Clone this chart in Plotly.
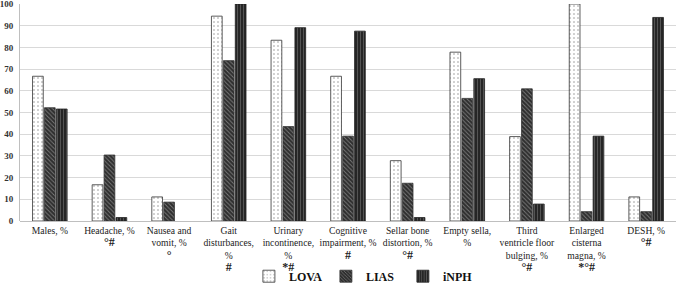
import plotly.graph_objects as go

SYM = '<span style="font-size:12px"><b>{}</b></span>'
categories = [
    "Males, %",
    "Headache, %<br>" + SYM.format("°#"),
    "Nausea and<br>vomit, %<br>" + SYM.format("°"),
    "Gait<br>disturbances,<br>%<br>" + SYM.format("#"),
    "Urinary<br>incontinence,<br>%<br>" + SYM.format("*#"),
    "Cognitive<br>impairment, %<br>" + SYM.format("#"),
    "Sellar bone<br>distortion, %<br>" + SYM.format("°#"),
    "Empty sella,<br>%",
    "Third<br>ventricle floor<br>bulging, %<br>" + SYM.format("°#"),
    "Enlarged<br>cisterna<br>magna, %<br>" + SYM.format("*°#"),
    "DESH, %<br>" + SYM.format("°#"),
]
lova = [66.7, 16.7, 11.1, 94.4, 83.3, 66.7, 27.8, 77.8, 38.9, 100.0, 11.1]
lias = [52.2, 30.4, 8.7, 73.9, 43.5, 39.1, 17.4, 56.5, 60.9, 4.3, 4.3]
inph = [51.6, 1.6, 0.0, 100.0, 89.1, 87.5, 1.6, 65.6, 7.8, 39.1, 93.8]
y_ticks = list(range(0, 101, 10))

x = list(range(len(categories)))
serif = "Liberation Serif"


def outline(values, color, width=0.8):
    # no outline on zero-height bars (nothing is drawn there in the reference)
    return dict(color=color, width=[0 if v == 0 else width for v in values])


fig = go.Figure()
fig.add_trace(go.Bar(
    name="LOVA", x=x, y=lova,
    marker=dict(color="white", line=outline(lova, "#333333"),
                pattern=dict(shape=".", fgcolor="#222222", bgcolor="white",
                             size=4, solidity=0.12)),
))
fig.add_trace(go.Bar(
    name="LIAS", x=x, y=lias,
    marker=dict(color="#333333", line=outline(lias, "#333333"),
                pattern=dict(shape="\\", fgcolor="#c8c8c8", bgcolor="#2e2e2e",
                             size=3, solidity=0.3)),
))
fig.add_trace(go.Bar(
    name="iNPH", x=x, y=inph,
    marker=dict(color="#333333", line=outline(inph, "#222222"),
                pattern=dict(shape="|", fgcolor="#8c8c8c", bgcolor="#262626",
                             size=3, solidity=0.3)),
))

fig.update_layout(
    width=676, height=283,
    margin=dict(l=20, r=0, t=4, b=62, autoexpand=False),
    paper_bgcolor="white", plot_bgcolor="white",
    barmode="group", bargap=0.4, bargroupgap=0.1,
    font=dict(family=serif, color="#222222", size=10),
    showlegend=True,
    legend=dict(orientation="h", x=0.525, xanchor="center",
                yref="container", y=0.024, yanchor="middle",
                font=dict(family=serif, size=12, color="#111111", weight="bold"),
                itemwidth=30, entrywidth=32, entrywidthmode="pixels",
                traceorder="normal", tracegroupgap=0,
                bgcolor="rgba(0,0,0,0)"),
)
fig.update_xaxes(
    tickmode="array", tickvals=x, ticktext=categories,
    range=[-0.5, len(categories) - 0.5],
    showgrid=False, showline=False, ticks="", zeroline=False,
    tickfont=dict(family=serif, size=9.6, color="#222222"),
    ticklabelstandoff=2, automargin=False,
    fixedrange=True,
)
fig.update_yaxes(
    range=[0, 100], tickmode="array", tickvals=y_ticks,
    ticktext=[f"<b>{v}</b>" for v in y_ticks],
    showgrid=True, gridcolor="#d9d9d9", gridwidth=1,
    showline=True, linecolor="#bfbfbf", linewidth=1,
    zeroline=True, zerolinecolor="#bfbfbf", zerolinewidth=1,
    ticks="", ticklabelstandoff=4, ticklabeloverflow="allow",
    tickfont=dict(family=serif, size=9, color="#333333"),
    automargin=False, fixedrange=True,
)

fig.write_html("out.html",
               config={"displayModeBar": False},
               post_script="document.body.style.margin='0';document.body.style.padding='0';")
